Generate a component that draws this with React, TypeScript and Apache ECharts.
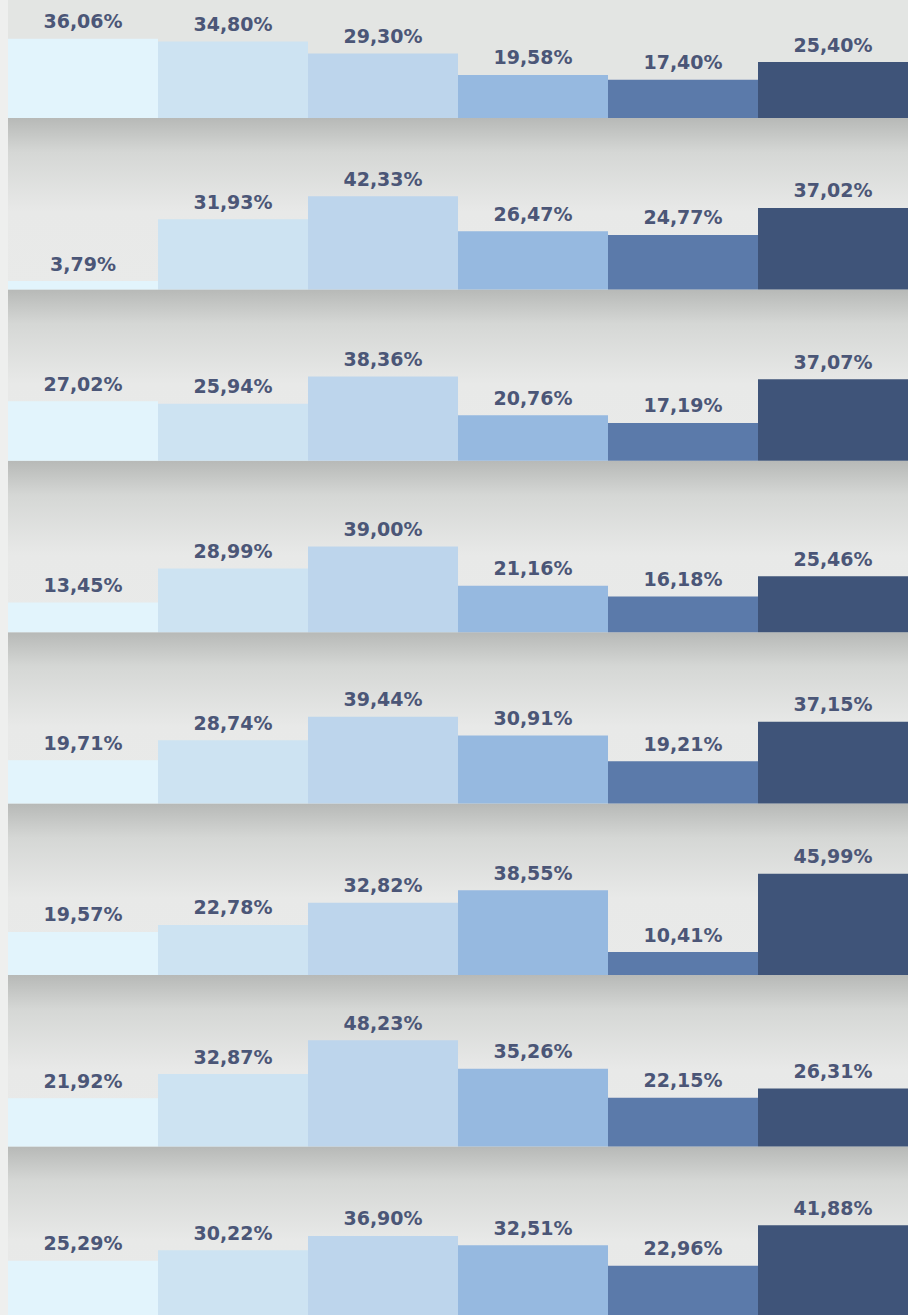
import React, { useEffect, useRef } from "react";
import * as echarts from "echarts";

const categories = ["A", "B", "C", "D", "E", "F"];
const row1 = [36.06, 34.8, 29.3, 19.58, 17.4, 25.4];
const row2 = [3.79, 31.93, 42.33, 26.47, 24.77, 37.02];
const row3 = [27.02, 25.94, 38.36, 20.76, 17.19, 37.07];
const row4 = [13.45, 28.99, 39.0, 21.16, 16.18, 25.46];
const row5 = [19.71, 28.74, 39.44, 30.91, 19.21, 37.15];
const row6 = [19.57, 22.78, 32.82, 38.55, 10.41, 45.99];
const row7 = [21.92, 32.87, 48.23, 35.26, 22.15, 26.31];
const row8 = [25.29, 30.22, 36.9, 32.51, 22.96, 41.88];
const rows = [row1, row2, row3, row4, row5, row6, row7, row8];

const barColors = ["#e2f4fc", "#cde3f2", "#bdd5ec", "#96b9e0", "#5b7aaa", "#3f5479"];

const W = 908;
const H = 1315;
const firstBase = 118;
const rowStep = 171.4;
const gridH = 110;
const yMax = 50;

export default function App() {
  const ref = useRef<HTMLDivElement>(null);
  useEffect(() => {
    if (!ref.current) return;
    const chart = echarts.init(ref.current, null, { renderer: "svg" });
    const grids: any[] = [];
    const xAxes: any[] = [];
    const yAxes: any[] = [];
    const series: any[] = [];
    const graphics: any[] = [];
    graphics.push({
      type: "rect",
      z: 0,
      shape: { x: 0, y: 0, width: 8, height: H },
      style: { fill: "#eeefee" },
    });
    rows.forEach((row, i) => {
      const base = firstBase + i * rowStep;
      grids.push({ left: 8, width: W - 8, top: base - gridH, height: gridH });
      xAxes.push({
        type: "category",
        gridIndex: i,
        data: categories,
        show: false,
      });
      yAxes.push({
        type: "value",
        gridIndex: i,
        min: 0,
        max: yMax,
        show: false,
      });
      series.push({
        type: "bar",
        xAxisIndex: i,
        yAxisIndex: i,
        z: 5,
        barWidth: "100%",
        barCategoryGap: 0,
        data: row.map((v, j) => ({ value: v, itemStyle: { color: barColors[j] } })),
        label: {
          show: true,
          position: "top",
          distance: 8,
          color: "#4b5677",
          fontFamily: "DejaVu Sans",
          fontWeight: "bold",
          fontSize: 19,
          formatter: (p: any) => p.value.toFixed(2).replace(".", ",") + "%",
        },
      });
      const bandTop = base;
      const bandH = i < rows.length - 1 ? rowStep : 10;
      graphics.push({
        type: "rect",
        z: 0,
        shape: { x: 8, y: bandTop, width: W - 8, height: bandH },
        style: {
          fill: new echarts.graphic.LinearGradient(0, 0, 0, 1, [
            { offset: 0, color: "#b7b9b7" },
            { offset: 0.2, color: "#d5d7d5" },
            { offset: 0.55, color: "#e8e9e8" },
            { offset: 1, color: "#e9eae9" },
          ]),
        },
      });
    });
    chart.setOption({
      animation: false,
      backgroundColor: "#e3e5e3",
      graphic: graphics,
      grid: grids,
      xAxis: xAxes,
      yAxis: yAxes,
      series,
    });
    return () => chart.dispose();
  }, []);
  return (
    <div
      ref={ref}
      style={{ position: "absolute", left: 0, top: 0, width: W, height: H }}
    />
  );
}
